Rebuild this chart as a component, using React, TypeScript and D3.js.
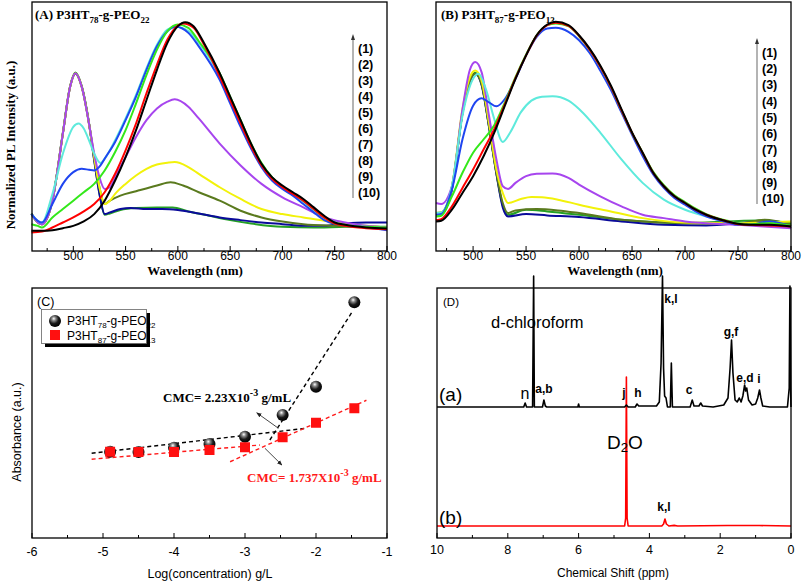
import React from "react";
import * as d3 from "d3";

type P = [number, number];

// ---------- Panel A: P3HT78-g-PEO22 PL spectra (wavelength nm, intensity a.u.) ----------
const A1: P[] = [[460,60],[470,60],[480,62],[490,68],[500,75],[510,88],[520,110],[530,150],[540,210],[550,280],[560,360],[570,450],[580,540],[590,620],[600,670],[607,682],[615,670],[625,620],[640,530],[650,460],[660,390],[670,320],[680,260],[690,220],[700,195],[710,175],[720,155],[730,130],[740,105],[750,85],[760,78],[780,70],[800,67]];
const A2: P[] = [[460,55],[470,58],[480,70],[490,85],[500,100],[510,118],[520,140],[530,175],[540,230],[550,300],[560,380],[570,470],[580,555],[590,630],[600,672],[605,678],[615,665],[625,615],[640,520],[650,450],[660,380],[670,312],[680,255],[690,215],[700,190],[710,170],[720,150],[730,125],[740,100],[750,82],[760,75],[780,68],[800,65]];
const A3: P[] = [[460,80],[466,75],[470,70],[480,100],[490,125],[500,150],[510,175],[520,200],[530,240],[540,295],[550,360],[560,440],[570,525],[580,600],[590,655],[600,675],[610,665],[620,625],[640,530],[650,460],[660,390],[670,320],[680,262],[690,220],[700,192],[710,172],[720,150],[730,125],[740,100],[750,82],[760,75],[780,72],[800,70]];
const A4: P[] = [[460,110],[466,90],[470,85],[480,140],[490,200],[500,235],[508,245],[515,242],[520,240],[526,255],[530,275],[540,325],[550,390],[560,460],[570,540],[580,610],[590,655],[598,668],[610,650],[620,610],[640,510],[650,440],[660,370],[670,305],[680,250],[690,210],[700,185],[710,165],[720,140],[730,115],[740,92],[750,80],[760,75],[780,70],[800,62]];
const A5: P[] = [[460,110],[466,90],[470,85],[480,170],[490,290],[500,370],[505,380],[510,365],[515,330],[520,290],[526,262],[530,275],[540,330],[550,395],[560,465],[570,545],[580,615],[590,660],[598,668],[610,655],[620,620],[640,520],[650,450],[660,380],[670,315],[680,258],[690,218],[700,192],[710,170],[720,148],[730,122],[740,100],[750,86],[760,78],[780,72],[800,68]];
const A6: P[] = [[460,110],[466,85],[470,80],[480,150],[490,350],[497,490],[502,530],[508,490],[515,380],[520,290],[525,220],[530,185],[535,190],[540,220],[550,280],[560,340],[570,390],[580,425],[590,445],[597,452],[610,430],[620,395],[640,320],[660,255],[680,200],[700,160],[720,130],[740,100],[760,85],[780,75],[800,70]];
const A7: P[] = [[460,110],[466,85],[470,80],[480,150],[490,350],[497,490],[502,530],[508,490],[515,380],[520,280],[525,190],[530,140],[535,150],[540,170],[550,200],[560,225],[570,245],[580,258],[590,263],[597,265],[610,250],[620,230],[640,190],[660,155],[680,125],[700,110],[720,100],[740,90],[760,82],[780,75],[800,70]];
const A8: P[] = [[460,110],[466,85],[470,80],[480,150],[490,350],[497,490],[502,530],[508,490],[515,380],[520,280],[525,190],[530,140],[535,150],[545,165],[560,178],[580,195],[593,205],[605,195],[620,175],[640,150],[660,120],[680,100],[700,88],[720,80],[750,75],[780,72],[800,70]];
const A9: P[] = [[460,110],[466,85],[470,80],[480,150],[490,350],[497,490],[502,528],[508,490],[515,380],[520,270],[525,170],[530,110],[535,115],[545,125],[555,128],[570,125],[585,125],[600,122],[620,112],[640,100],[660,92],[680,85],[700,80],[720,75],[740,75],[760,82],[780,85],[800,85]];
const A10: P[] = [[460,112],[466,87],[470,82],[480,152],[490,352],[497,492],[502,532],[508,492],[515,382],[520,272],[525,172],[530,108],[535,112],[545,122],[560,128],[580,130],[595,130],[610,118],[630,105],[650,92],[670,82],[700,72],[730,70],[760,72],[780,74],[800,72]];

// ---------- Panel B: P3HT87-g-PEO13 PL spectra ----------
const B1: P[] = [[465,88],[470,90],[480,123],[490,173],[500,223],[510,283],[520,353],[530,433],[540,513],[550,583],[560,643],[570,675],[578,683],[590,673],[600,643],[610,603],[620,553],[630,493],[640,423],[650,353],[660,293],[670,233],[680,193],[690,163],[700,143],[710,123],[720,108],[740,88],[750,81],[760,78],[780,78],[800,73]];
const B2: P[] = [[465,92],[470,95],[480,133],[490,188],[500,243],[510,303],[520,363],[530,438],[540,515],[550,583],[560,642],[570,673],[578,680],[590,671],[600,641],[610,600],[620,550],[630,490],[640,420],[650,352],[660,292],[670,233],[680,193],[690,163],[700,143],[710,123],[720,108],[740,88],[750,80],[760,78],[780,76],[800,73]];
const B3: P[] = [[465,103],[470,105],[480,163],[490,233],[500,293],[510,333],[520,375],[530,443],[540,518],[550,585],[560,643],[570,673],[578,678],[590,670],[600,640],[610,600],[620,550],[630,490],[640,420],[650,352],[660,293],[670,236],[680,196],[690,166],[700,146],[710,126],[720,110],[740,90],[750,82],[760,80],[780,83],[800,75]];
const B4: P[] = [[465,108],[470,110],[480,183],[490,333],[500,433],[508,455],[515,443],[522,431],[530,453],[540,513],[550,583],[560,638],[570,663],[578,665],[590,653],[600,628],[610,590],[620,538],[630,480],[640,413],[650,346],[660,283],[670,228],[680,188],[690,158],[700,138],[710,118],[720,103],[740,85],[750,78],[760,78],[780,88],[800,73]];
const B5: P[] = [[465,113],[470,115],[480,193],[490,403],[500,513],[505,528],[512,483],[520,393],[528,325],[535,353],[545,413],[555,448],[565,460],[575,461],[590,448],[600,423],[610,390],[620,353],[640,273],[660,203],[680,153],[700,123],[720,103],[740,88],[750,82],[760,80],[780,78],[800,73]];
const B6: P[] = [[465,143],[470,140],[480,193],[490,423],[497,540],[502,563],[508,533],[515,403],[522,273],[528,193],[533,185],[540,203],[550,223],[560,230],[575,231],[590,218],[600,198],[620,163],[640,133],[660,108],[680,98],[700,88],[750,78],[800,68]];
const B7: P[] = [[465,113],[470,115],[480,190],[490,423],[497,518],[502,538],[508,508],[515,383],[522,243],[528,173],[533,143],[545,155],[555,161],[565,160],[580,153],[600,138],[630,118],[660,98],[700,85],[750,83],[800,88]];
const B8: P[] = [[465,113],[470,115],[480,190],[490,413],[497,508],[502,528],[508,498],[515,373],[522,233],[528,143],[533,113],[540,121],[560,125],[580,121],[600,113],[640,93],[700,83],[750,81],[775,93],[800,78]];
const B9: P[] = [[465,108],[470,110],[480,183],[490,410],[497,505],[502,528],[508,495],[515,370],[522,230],[528,130],[533,103],[550,110],[570,106],[600,101],[640,88],[680,78],[720,76],[760,85],[780,88],[800,68]];
const B10: P[] = [[465,110],[470,112],[480,185],[490,412],[497,508],[502,531],[508,498],[515,372],[522,232],[528,135],[533,108],[550,123],[570,118],[600,108],[640,93],[700,83],[770,91],[800,83]];

const SERIES_COLORS = ["#000000","#ff0000","#33e81a","#1f45f0","#5eeadc","#a745ee","#f2f20a","#5a7a1e","#0a0a9a","#25a025"];
const SERIES_LABELS = ["(1)","(2)","(3)","(4)","(5)","(6)","(7)","(8)","(9)","(10)"];
const A_SERIES = [A1,A2,A3,A4,A5,A6,A7,A8,A9,A10];
const B_SERIES = [B1,B2,B3,B4,B5,B6,B7,B8,B9,B10];
const WL_TICKS = [500,550,600,650,700,750,800];
const WL_MINOR = [475,525,575,625,675,725,775];

// ---------- Panel C: absorbance vs log(concentration) ----------
const C_LOGC = [-4.9,-4.5,-4.0,-3.5,-3.0,-2.47,-2.0,-1.46];
const C_BLACK = [0.345,0.344,0.361,0.376,0.405,0.492,0.605,0.943];
const C_RED = [0.345,0.344,0.344,0.352,0.363,0.403,0.461,0.519];
const C_FIT_BLACK_LOW: P[] = [[-5.16,0.339],[-2.14,0.439]];
const C_FIT_BLACK_HIGH: P[] = [[-2.65,0.392],[-1.48,0.909]];
const C_FIT_RED_LOW: P[] = [[-5.16,0.315],[-2.79,0.372]];
const C_FIT_RED_HIGH: P[] = [[-3.21,0.305],[-1.29,0.551]];
const C_ARROW_BLACK: P[] = [[-2.53,0.439],[-2.835,0.501]];
const C_ARROW_RED: P[] = [[-2.72,0.359],[-2.48,0.292]];
const C_TICKS = [-6,-5,-4,-3,-2,-1];
const C_MINOR = [-5.5,-4.5,-3.5,-2.5,-1.5];

// ---------- Panel D: 1H NMR (ppm, intensity) ----------
const D_A: P[] = [[10,131],[7.55,131],[7.51,135],[7.47,131],[7.3,131],[7.27,262],[7.25,131],[7.02,131],[6.98,138],[6.94,132],[6.9,131],[6.02,131],[6.0,134],[5.98,131],[4.7,131],[4.65,133],[4.6,131],[4.4,131],[4.35,134],[4.3,132],[3.8,132],[3.72,136],[3.67,175],[3.63,262],[3.6,170],[3.57,142],[3.53,140],[3.49,131],[3.41,131],[3.38,175],[3.35,131],[2.85,131],[2.79,138],[2.74,132],[2.6,132],[2.55,135],[2.5,132],[2.2,131],[1.9,133],[1.78,140],[1.72,170],[1.68,198],[1.64,165],[1.58,138],[1.52,136],[1.46,140],[1.41,136],[1.36,142],[1.31,153],[1.28,147],[1.25,150],[1.2,138],[1.1,133],[1.0,134],[0.94,140],[0.89,148],[0.85,140],[0.8,132],[0.6,131],[0.1,131],[0.05,150],[0.03,252],[0.01,150],[0,131]];
const D_B: P[] = [[10,12],[4.7,12],[4.67,20],[4.65,161],[4.63,20],[4.6,12],[3.65,12],[3.6,14],[3.56,19],[3.52,14],[3.45,12],[3.3,12.6],[3.2,12],[1.8,12.5],[1.2,12.5],[0.9,12.5],[0,12]];
const D_TICKS = [10,8,6,4,2,0];
const D_MINOR = [9,7,5,3,1];

const SERIF = "'Liberation Serif', 'Times New Roman', serif";
const SANS = "'Liberation Sans', Arial, sans-serif";

function Frame({ l, r, t, b, sw = 1.3 }: { l: number; r: number; t: number; b: number; sw?: number }) {
  return <rect x={l} y={t} width={r - l} height={b - t} fill="none" stroke="#000" strokeWidth={sw} />;
}

function XTicks({ scale, major, minor, bottom, labelY, fontSize = 12.5 }: any) {
  return (
    <g>
      {major.map((v: number) => (
        <g key={"M" + v}>
          <line x1={scale(v)} x2={scale(v)} y1={bottom} y2={bottom - 5} stroke="#000" strokeWidth={1} />
          <text x={scale(v)} y={labelY} textAnchor="middle" dominantBaseline="central" fontFamily={SANS} fontSize={fontSize}>{v}</text>
        </g>
      ))}
      {minor.map((v: number) => (
        <line key={"m" + v} x1={scale(v)} x2={scale(v)} y1={bottom} y2={bottom - 3} stroke="#000" strokeWidth={1} />
      ))}
    </g>
  );
}

function Sub({ base, sub1, mid, sub2, subSize, shift }: any) {
  return (
    <>
      {base}
      <tspan dy={shift} fontSize={subSize}>{sub1}</tspan>
      <tspan dy={-shift}>{mid}</tspan>
      <tspan dy={shift} fontSize={subSize}>{sub2}</tspan>
    </>
  );
}

function SpectraPanel({ series, l, r, t, b, xmin, title, arrowX, arrowTop, arrowBottom, lab0, labStep, titleX, axisTitleX }: any) {
  const x = d3.scaleLinear().domain([xmin, 800]).range([l, r]);
  const y = d3.scaleLinear().domain([0, 742]).range([b, t]);
  const line = d3.line<P>().x((d) => x(d[0])).y((d) => y(d[1])).curve(d3.curveMonotoneX);
  const order = [9, 8, 7, 6, 5, 4, 3, 2, 1, 0];
  return (
    <g>
      <g>
        {order.map((i) => (
          <path key={i} d={line(series[i]) || ""} fill="none" stroke={SERIES_COLORS[i]} strokeWidth={2} strokeLinejoin="round" />
        ))}
      </g>
      <Frame l={l} r={r} t={t} b={b} />
      <XTicks scale={x} major={WL_TICKS} minor={WL_MINOR} bottom={b} labelY={b + 5} fontSize={12} />
      <text x={axisTitleX} y={b + 19} textAnchor="middle" dominantBaseline="central" fontFamily={SERIF} fontWeight="bold" fontSize={13}>Wavelength (nm)</text>
      <text x={titleX} y={19} fontFamily={SERIF} fontWeight="bold" fontSize={13}>
        {title}
      </text>
      <line x1={arrowX} x2={arrowX} y1={arrowBottom} y2={arrowTop + 4} stroke="#8c8c8c" strokeWidth={1.3} />
      <path d={`M${arrowX - 2},${arrowTop + 6} L${arrowX},${arrowTop} L${arrowX + 2},${arrowTop + 6} Z`} fill="#333" />
      {SERIES_LABELS.map((s, i) => (
        <text key={s} x={arrowX + 5} y={lab0 + i * labStep} dominantBaseline="central" fontFamily={SANS} fontWeight="bold" fontSize={12.5}>{s}</text>
      ))}
    </g>
  );
}

function PanelC() {
  const l = 32, r = 387, t = 288, b = 538;
  const x = d3.scaleLinear().domain([-6, -1]).range([l, r]);
  const y = d3.scaleLinear().domain([0, 1]).range([b, t]);
  const line = d3.line<P>().x((d) => x(d[0])).y((d) => y(d[1]));
  return (
    <g>
      <path d={line(C_FIT_BLACK_LOW) || ""} stroke="#000" strokeWidth={1.4} strokeDasharray="4,3" fill="none" />
      <path d={line(C_FIT_BLACK_HIGH) || ""} stroke="#000" strokeWidth={1.4} strokeDasharray="4,3" fill="none" />
      <path d={line(C_FIT_RED_LOW) || ""} stroke="#ff1a1a" strokeWidth={1.4} strokeDasharray="4,3" fill="none" />
      <path d={line(C_FIT_RED_HIGH) || ""} stroke="#ff1a1a" strokeWidth={1.4} strokeDasharray="4,3" fill="none" />
      {C_LOGC.map((v, i) => (
        <circle key={"b" + i} cx={x(v)} cy={y(C_BLACK[i])} r={6} fill="url(#sphere)" />
      ))}
      {C_LOGC.map((v, i) => (
        <rect key={"r" + i} x={x(v) - 5} y={y(C_RED[i]) - 5} width={10} height={10} fill="#ff1010" />
      ))}
      {[C_ARROW_BLACK, C_ARROW_RED].map((a, i) => (
        <line key={i} x1={x(a[0][0])} y1={y(a[0][1])} x2={x(a[1][0])} y2={y(a[1][1])} stroke="#333" strokeWidth={0.9} markerEnd="url(#arrowhead)" />
      ))}
      <text x={163} y={402} fontFamily={SERIF} fontWeight="bold" fontSize={13}>
        CMC= 2.23X10<tspan dy={-6} fontSize={10}>-3</tspan><tspan dy={6}> g/mL</tspan>
      </text>
      <text x={247} y={482} fontFamily={SERIF} fontWeight="bold" fontSize={13} fill="#ff1a1a">
        CMC= 1.737X10<tspan dy={-6} fontSize={10}>-3</tspan><tspan dy={6}> g/mL</tspan>
      </text>
      <Frame l={l} r={r} t={t} b={b} />
      <XTicks scale={x} major={C_TICKS} minor={C_MINOR} bottom={b} labelY={552} />
      <text x={210} y={574} textAnchor="middle" dominantBaseline="central" fontFamily={SANS} fontSize={12.5}>Log(concentration) g/L</text>
      <text transform="translate(17,432) rotate(-90)" textAnchor="middle" dominantBaseline="central" fontFamily={SANS} fontSize={12.5}>Absorbance (a.u.)</text>
      <text x={37} y={302} dominantBaseline="central" fontFamily={SANS} fontSize={12.5}>(C)</text>
      {/* legend */}
      <rect x={45} y={313} width={105} height={34} fill="#000" />
      <rect x={41.5} y={309.5} width={105} height={34} fill="#fff" stroke="#666" strokeWidth={0.8} />
      <circle cx={55} cy={321} r={6} fill="url(#sphere)" />
      <rect x={50} y={330} width={10} height={10} fill="#ff1010" />
      <text x={67} y={325} fontFamily={SANS} fontSize={12}>
        <Sub base="P3HT" sub1="78" mid="-g-PEO" sub2="22" subSize={8} shift={3} />
      </text>
      <text x={67} y={339.5} fontFamily={SANS} fontSize={12}>
        <Sub base="P3HT" sub1="87" mid="-g-PEO" sub2="13" subSize={8} shift={3} />
      </text>
    </g>
  );
}

function PanelD() {
  const l = 437, r = 791, t = 288, b = 538;
  const x = d3.scaleLinear().domain([10, 0]).range([l, r]);
  const y = d3.scaleLinear().domain([0, 250]).range([b, t]);
  const line = d3.line<P>().x((d) => x(d[0])).y((d) => y(d[1]));
  const lab = (s: string, px: number, py: number, opts: any = {}) => (
    <text x={px} y={py} textAnchor="middle" dominantBaseline="central" fontFamily={SANS} fontWeight="bold" fontSize={12} {...opts}>{s}</text>
  );
  return (
    <g>
      <path d={line(D_B) || ""} fill="none" stroke="#ff0000" strokeWidth={1.6} strokeLinejoin="round" />
      <path d={line(D_A) || ""} fill="none" stroke="#000" strokeWidth={1.6} strokeLinejoin="round" />
      <Frame l={l} r={r} t={t} b={b} />
      <XTicks scale={x} major={D_TICKS} minor={D_MINOR} bottom={b} labelY={550} />
      <text x={613} y={573} textAnchor="middle" dominantBaseline="central" fontFamily={SANS} fontSize={12}>Chemical Shift (ppm)</text>
      <text x={443} y={302} dominantBaseline="central" fontFamily={SANS} fontSize={11.5}>(D)</text>
      <text x={491} y={322} dominantBaseline="central" fontFamily={SANS} fontSize={16.5}>d-chloroform</text>
      {lab("k,l", 671, 299)}
      {lab("g,f", 731, 332)}
      {lab("e,d", 745, 378)}
      {lab("i", 759, 379)}
      {lab("c", 689, 390)}
      {lab("h", 638, 393)}
      {lab("j", 624, 393)}
      {lab("a,b", 544, 389)}
      {lab("k,l", 664, 507)}
      <text x={525} y={393} textAnchor="middle" dominantBaseline="central" fontFamily={SANS} fontSize={16}>n</text>
      <text x={439} y={394} dominantBaseline="central" fontFamily={SANS} fontSize={19}>(a)</text>
      <text x={439} y={517} dominantBaseline="central" fontFamily={SANS} fontSize={19}>(b)</text>
      <text x={607} y={442} dominantBaseline="central" fontFamily={SANS} fontSize={19}>
        D<tspan dy={5} fontSize={13}>2</tspan><tspan dy={-5}>O</tspan>
      </text>
    </g>
  );
}

export default function App() {
  return (
    <svg width={802} height={581} viewBox="0 0 802 581" style={{ position: "absolute", left: 0, top: 0, background: "#fff" }}>
      <defs>
        <radialGradient id="sphere" cx="0.4" cy="0.35" r="0.65" fx="0.4" fy="0.3">
          <stop offset="0" stopColor="#ffffff" />
          <stop offset="0.25" stopColor="#8a8a8a" />
          <stop offset="0.6" stopColor="#1a1a1a" />
          <stop offset="1" stopColor="#000" />
        </radialGradient>
        <marker id="arrowhead" viewBox="0 0 10 10" refX="9" refY="5" markerWidth="6" markerHeight="6" orient="auto">
          <path d="M0,1 L10,5 L0,9 Z" fill="#222" />
        </marker>
      </defs>
      <rect x={0} y={0} width={802} height={581} fill="#fff" />
      <text transform="translate(10,145) rotate(-90)" textAnchor="middle" dominantBaseline="central" fontFamily={SERIF} fontWeight="bold" fontSize={13}>Normalized PL Intensity (a.u.)</text>
      <SpectraPanel series={A_SERIES} l={32} r={387} t={2} b={251} xmin={460.5}
        title={<Sub base="(A) P3HT" sub1="78" mid="-g-PEO" sub2="22" subSize={9} shift={4} />}
        titleX={35} axisTitleX={195} arrowX={353} arrowTop={34} arrowBottom={198} lab0={48.5} labStep={16.05} />
      <SpectraPanel series={B_SERIES} l={436} r={791} t={2} b={251} xmin={465}
        title={<Sub base="(B) P3HT" sub1="87" mid="-g-PEO" sub2="13" subSize={9} shift={4} />}
        titleX={441} axisTitleX={615} arrowX={757} arrowTop={38} arrowBottom={204} lab0={53} labStep={16.2} />
      <PanelC />
      <PanelD />
    </svg>
  );
}
